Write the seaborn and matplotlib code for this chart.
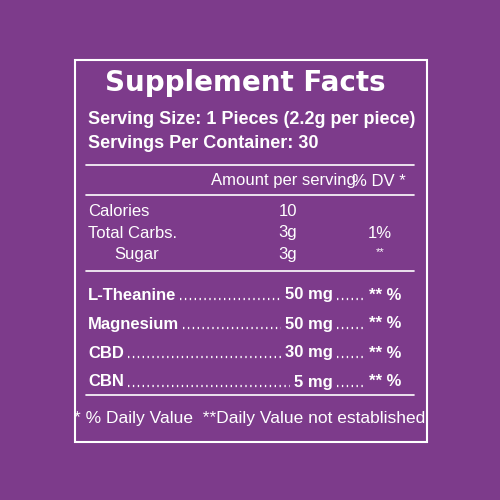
import matplotlib
matplotlib.use("Agg")
import matplotlib.pyplot as plt
import seaborn as sns

# label content
title = "Supplement Facts"
serving_lines = ["Serving Size: 1 Pieces (2.2g per piece)", "Servings Per Container: 30"]
nutrients = ["Calories", "Total Carbs.", "Sugar"]
nutrient_amounts = ["10", "3g", "3g"]
nutrient_dv = ["", "1%", "**"]
ingredients = ["L-Theanine", "Magnesium", "CBD", "CBN"]
ingredient_amounts = ["50 mg", "50 mg", "30 mg", "5 mg"]
ingredient_dv = ["** %", "** %", "** %", "** %"]
footnote = "* % Daily Value  **Daily Value not established"

purple = "#7d3b8b"
sns.set_style("white")
plt.rcParams['font.family'] = ['Liberation Sans Narrow', 'Liberation Sans', 'DejaVu Sans']

fig = plt.figure(figsize=(5, 5), dpi=100, facecolor=purple)
ax = fig.add_axes([0, 0, 1, 1])
ax.set_facecolor(purple)
ax.set_xlim(0, 500)
ax.set_ylim(500, 0)
ax.axis("off")

# outer frame
ax.add_patch(plt.Rectangle((75, 60), 352, 382, fill=False, ec="white", lw=1.5))

ax.text(245, 83, title, color="white", fontsize=20, fontweight="bold",
        family=["DejaVu Sans"], ha="center", va="center")
for i, line in enumerate(serving_lines):
    ax.text(88, 119 + i * 24, line, color="white", fontsize=13, fontweight="bold",
            ha="left", va="center")

for y in [165, 195, 271, 395]:
    ax.plot([86, 414], [y, y], color="white", lw=1.2)

ax.text(211, 181, "Amount per serving", color="white", fontsize=12, ha="left", va="center")
ax.text(406, 181, "% DV *", color="white", fontsize=12, ha="right", va="center")

for i, (n, a, d) in enumerate(zip(nutrients, nutrient_amounts, nutrient_dv)):
    y = 212 + i * 21
    ax.text(88 if i < 2 else 114, y, n, color="white", fontsize=12, ha="left", va="center")
    ax.text(288, y, a, color="white", fontsize=12, ha="center", va="center")
    ax.text(380, y if d != "**" else y - 2, d, color="white",
            fontsize=12 if d != "**" else 8, ha="center", va="center")

fig.canvas.draw()
renderer = fig.canvas.get_renderer()
inv = ax.transData.inverted()
for i, (n, a, d) in enumerate(zip(ingredients, ingredient_amounts, ingredient_dv)):
    y = 295 + i * 29
    t1 = ax.text(88, y, n, color="white", fontsize=12, fontweight="bold", ha="left", va="center")
    t2 = ax.text(333, y, a, color="white", fontsize=12, fontweight="bold", ha="right", va="center")
    ax.text(401, y, d, color="white", fontsize=12, fontweight="bold", ha="right", va="center")
    x1 = inv.transform(t1.get_window_extent(renderer))[1][0] + 4
    x2 = inv.transform(t2.get_window_extent(renderer))[0][0] - 4
    ax.plot([x1, x2], [y + 4, y + 4], color="white", lw=1.6, ls=(0, (0.6, 1.6)))
    ax.plot([337, 366], [y + 4, y + 4], color="white", lw=1.6, ls=(0, (0.6, 1.6)))

ax.text(250, 419, footnote, color="white", fontsize=12.5, ha="center", va="center")

fig.savefig("out.png", dpi=100, facecolor=purple)
